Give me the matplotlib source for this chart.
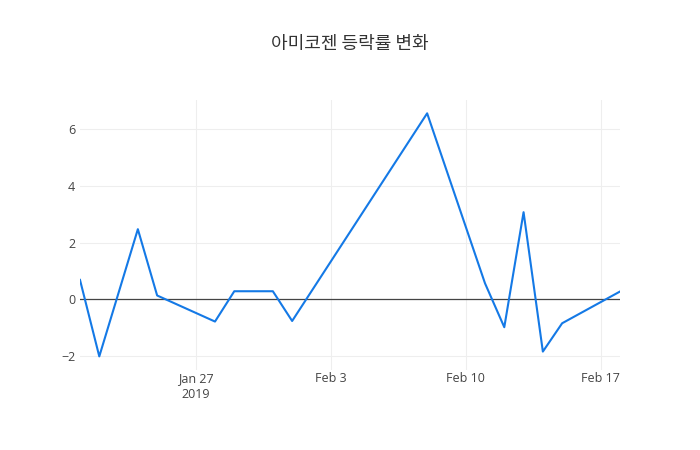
import numpy as np
import pandas as pd
import matplotlib
matplotlib.use('Agg')
import matplotlib.pyplot as plt
import matplotlib.dates as mdates

# daily change rate (%)
dates = ['2019-01-21', '2019-01-22', '2019-01-24', '2019-01-25', '2019-01-28',
         '2019-01-29', '2019-01-30', '2019-01-31', '2019-02-01', '2019-02-08',
         '2019-02-11', '2019-02-12', '2019-02-13', '2019-02-14', '2019-02-15',
         '2019-02-18']
change = [0.68, -2.02, 2.47, 0.13, -0.79,
          0.28, 0.28, 0.28, -0.77, 6.56,
          0.56, -0.99, 3.07, -1.85, -0.85,
          0.27]
tick_dates = ['2019-01-27', '2019-02-03', '2019-02-10', '2019-02-17']
tick_labels = ['Jan 27\n2019', 'Feb 3', 'Feb 10', 'Feb 17']

x = pd.to_datetime(dates)

plt.rcParams['font.family'] = ['Open Sans', 'Noto Sans CJK KR', 'DejaVu Sans']

fig = plt.figure(figsize=(7, 4.5), dpi=100)
ax = fig.add_axes([80/700, 80/450, 540/700, 270/450])

ax.plot(x, change, color='#1479e6', linewidth=1.5, zorder=3)
ax.axhline(0, color='#444444', linewidth=0.9, zorder=2)

ax.set_xlim(x[0], x[-1])
ax.set_ylim(-2.5, 7.03)
ax.set_yticks([-2, 0, 2, 4, 6])
ax.set_yticklabels(['\u22122', '0', '2', '4', '6'])
ax.set_xticks(pd.to_datetime(tick_dates))
ax.set_xticklabels(tick_labels, linespacing=1.25)

ax.grid(True, color='#eeeeee', linewidth=0.75, zorder=0)
for s in ax.spines.values():
    s.set_visible(False)
ax.tick_params(length=0, labelsize=9, labelcolor='#444444')
ax.tick_params(axis='x', pad=1.5)
ax.tick_params(axis='y', pad=3.5)

fig.text(350/700, 1 - 44/450, '아미코젠 등락률 변화', ha='center', va='center',
         fontsize=13, color='#333333',
         family=['Noto Sans CJK KR', 'DejaVu Sans'])

fig.savefig('out.png', dpi=100, facecolor='white')
